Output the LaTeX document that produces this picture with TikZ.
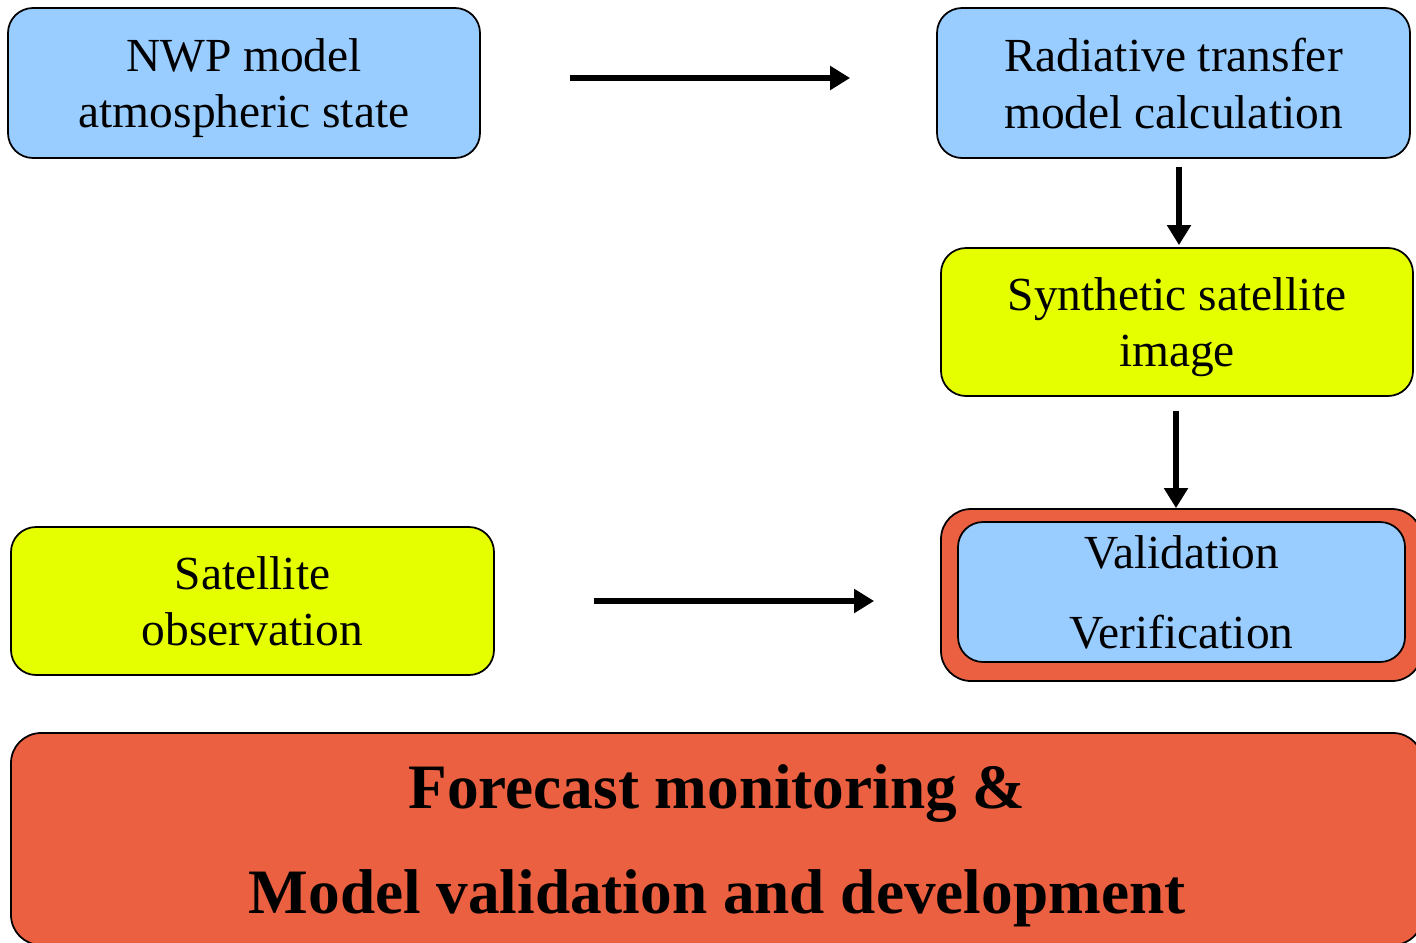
\documentclass[tikz,border=0pt]{standalone}
\usepackage[rgb]{xcolor}
\usepackage{fontspec}
\setmainfont{Liberation Serif}
\usepackage{tikz}
\usetikzlibrary{arrows.meta}

\definecolor{skyblue}{RGB}{153,204,255}
\definecolor{limeyellow}{RGB}{229,255,0}
\definecolor{tomato}{RGB}{234,96,64}

\begin{document}
\begin{tikzpicture}[scale=1,
  box/.style={draw=black, line width=1pt, rounded corners=0.5cm, align=center,
    text depth=0pt, font=\fontsize{27}{32.3}\selectfont},
  arr/.style={-{Triangle[length=4mm,width=4.6mm]}, line width=0.12cm, black}]

\clip (0,0) rectangle (28.32,-18.84);

% model side: NWP fields go through radiative transfer to a synthetic image
\path
(4.88,-1.66) node[box, fill=skyblue, minimum width=9.44cm, minimum height=3cm] (nwp)
 {NWP model\\ atmospheric state}
(23.47,-1.66) node[box, fill=skyblue, minimum width=9.46cm, minimum height=3cm] (rt)
 {Radiative transfer\\ model calculation}
(23.54,-6.44) node[box, fill=limeyellow, minimum width=9.44cm, minimum height=2.96cm] (synth)
 {Synthetic satellite\\ image};

% observation side
\path
(5.05,-12.02) node[box, fill=limeyellow, minimum width=9.66cm, minimum height=2.96cm] (sat)
 {Satellite\\ observation};

% validation box: blue box sitting in an orange frame
\node[draw=black, line width=1pt, fill=tomato, rounded corners=0.6cm,
  minimum width=9.62cm, minimum height=3.44cm] (frame) at (23.63,-11.9) {};
\node[box, fill=skyblue, minimum width=8.94cm, minimum height=2.8cm] (val)
 at (23.63,-11.84) {Validation\\[0.46cm] Verification};

\node[draw=black, line width=1pt, fill=tomato, rounded corners=0.6cm,
  minimum width=28.24cm, minimum height=4.24cm, align=center, text depth=0pt,
  font=\fontsize{36}{59.5}\selectfont\bfseries] (goal) at (14.34,-16.78)
 {Forecast monitoring \&\\ Model validation and development};

\draw[arr] ([xshift=1.78cm,yshift=0.1cm]nwp.east) -- ([xshift=-1.72cm,yshift=0.1cm]rt.west);
\draw[arr] ([xshift=1.1mm,yshift=-1.6mm]rt.south) -- ([xshift=1.1mm,yshift=0.4mm]rt.south |- synth.north);
\draw[arr] ([xshift=-0.2mm,yshift=-2.8mm]synth.south) -- ([xshift=-0.2mm]synth.south |- frame.north);
\draw[arr] ([xshift=1.98cm]sat.east) -- ([xshift=-1.32cm]sat.east -| frame.west);

%\draw[->,dashed] (nwp) -- (sat);

\end{tikzpicture}
\end{document}
